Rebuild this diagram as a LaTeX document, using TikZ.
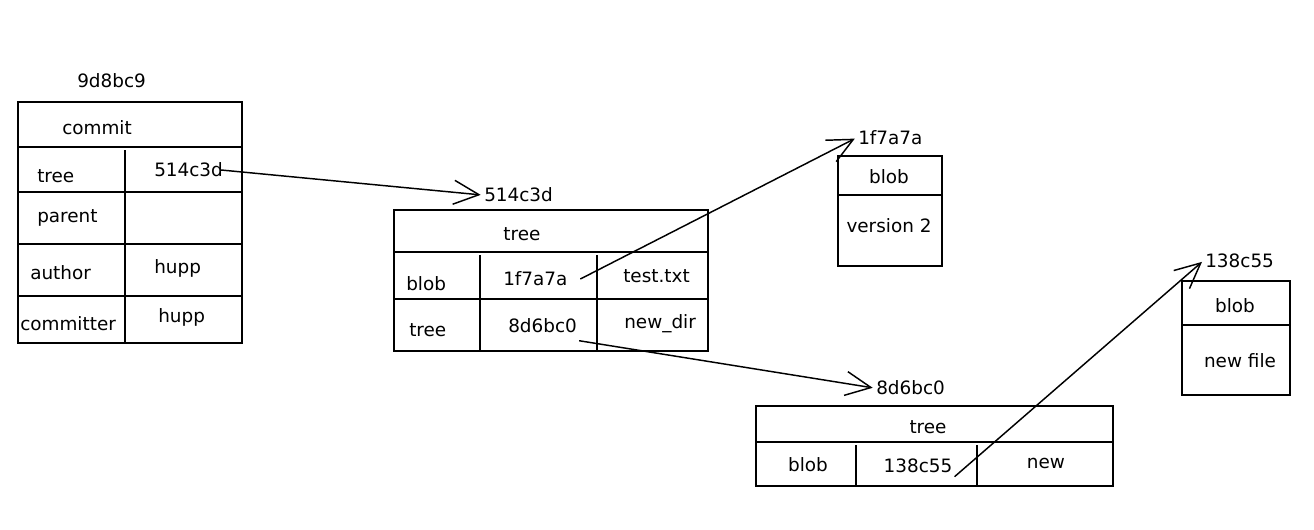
\documentclass[tikz,border=0pt]{standalone}
\usepackage{fontspec}
\setmainfont{DejaVu Sans}
\usetikzlibrary{arrows.meta}

\begin{document}
\begin{tikzpicture}[x=0.75pt, y=-0.75pt, line width=1.4pt,
    lbl/.style={inner sep=1pt, font=\fontsize{13.8}{16}\selectfont},
    ref/.style={line width=1.1pt, -{Straight Barb[length=19pt, width=18pt, line width=1.1pt]}, shorten >=1pt}]
    \useasboundingbox (0,0) rectangle (1314,529);

    % commit 9d8bc9
    \draw (18,102) rectangle (242,343);
    \draw (18,147) -- (242,147) (18,192) -- (242,192) (18,244) -- (242,244) (18,296) -- (242,296);
    \draw (125,150) -- (125,343);
    \node [lbl, right] (c-id) at (75,81) {9d8bc9};
    \node [lbl, right] (c-head) at (60,128) {commit};
    \node [lbl, right] (c-tree-key) at (35,176) {tree};
    \node [lbl, right] (c-tree) at (152,170) {514c3d};
    \node [lbl, right] (c-parent) at (35,218) {parent};
    \node [lbl, right] (c-author-key) at (28,273) {author};
    \node [lbl, right] (c-author) at (152,268) {hupp};
    \node [lbl, right] (c-committer-key) at (18,324) {committer};
    \node [lbl, right] (c-committer) at (156,317) {hupp};

    % tree 514c3d
    \draw (394,210) rectangle (708,351);
    \draw (394,252) -- (708,252) (394,299) -- (708,299);
    \draw (480,255) -- (480,351) (597,255) -- (597,351);
    \node [lbl, right] (t1-id) at (482,195) {514c3d};
    \node [lbl] (t1-head) at (522,234) {tree};
    \node [lbl, right] (t1-blob-key) at (404,284) {blob};
    \node [lbl, right] (t1-blob) at (501,279) {1f7a7a};
    \node [lbl, right] (t1-blob-name) at (621,276) {test.txt};
    \node [lbl, right] (t1-tree-key) at (407,330) {tree};
    \node [lbl, right] (t1-tree) at (506,326) {8d6bc0};
    \node [lbl, right] (t1-tree-name) at (622,324) {new\_dir};

    % blob 1f7a7a
    \draw (838,156) rectangle (942,266);
    \draw (838,195) -- (942,195);
    \node [lbl, right] (b1-id) at (856,138) {1f7a7a};
    \node [lbl] (b1-head) at (889,177) {blob};
    \node [lbl] (b1-data) at (889,226) {version 2};

    % tree 8d6bc0
    \draw (756,406) rectangle (1113,486);
    \draw (756,442) -- (1113,442);
    \draw (856,445) -- (856,486) (977,445) -- (977,486);
    \node [lbl, right] (t2-id) at (874,388) {8d6bc0};
    \node [lbl] (t2-head) at (928,427) {tree};
    \node [lbl] (t2-blob-key) at (808,465) {blob};
    \node [lbl] (t2-blob) at (918,466) {138c55};
    \node [lbl] (t2-blob-name) at (1046,463) {new};

    % blob 138c55
    \draw (1182,281) rectangle (1290,395);
    \draw (1182,325) -- (1290,325);
    \node [lbl, right] (b2-id) at (1203,261) {138c55};
    \node [lbl] (b2-head) at (1235,306) {blob};
    \node [lbl] (b2-data) at (1240,361) {new file};

    \draw [ref] ([xshift=-3]c-tree.east) -- (t1-id.west);
    \draw [ref] ([xshift=8]t1-blob.east) -- (b1-id.west);
    \draw [ref] ([yshift=-4]t1-tree.south east) -- (t2-id.west);
    \draw [ref] ([yshift=-8]t2-blob.east) -- (b2-id.west);
\end{tikzpicture}
\end{document}
